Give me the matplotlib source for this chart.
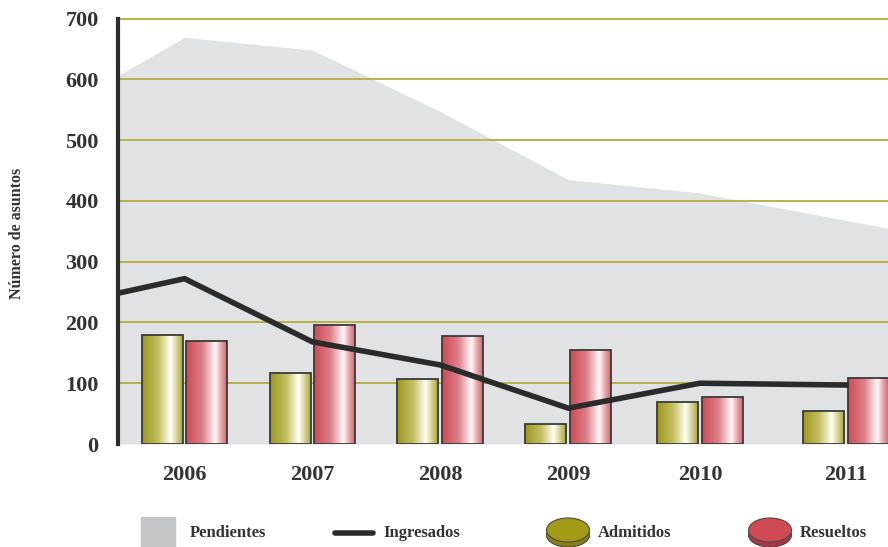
import numpy as np
import matplotlib
matplotlib.use("Agg")
import matplotlib.pyplot as plt
import matplotlib.patches as patches
from matplotlib.lines import Line2D
from matplotlib.colors import LinearSegmentedColormap

plt.rcParams['font.family'] = ['Liberation Serif', 'DejaVu Serif']
plt.rcParams['font.weight'] = 'bold'

# ---------- DATA ----------
years = ['2006', '2007', '2008', '2009', '2010', '2011']
admitidos = [179, 116, 107, 33, 69, 54]
resueltos = [170, 196, 178, 154, 78, 109]
ingresados = [272, 168, 130, 59, 100, 97]
pendientes = [669, 648, 547, 435, 413]
# values where the series meet the edges of the plot
ingresados_left = 248
pendientes_left = 606
pendientes_right = 355

# ---------- LAYOUT ----------
group_x = np.array([0, 1.0, 2.0, 3.0, 4.03, 5.17])
x_left, x_right = -0.52, 5.5
bar_w = 0.32
off = 0.175

DARK = '#2b2b2b'
GRID = '#b3ad3c'
AREA = '#e1e2e3'

fig = plt.figure(figsize=(8.88, 5.47), dpi=100)
ax = fig.add_axes([118 / 888, 103 / 547, 1 - 118 / 888, (444 - 18.5) / 547])

# PENDIENTES (area)
area_x = np.concatenate([[x_left], group_x[:5], [x_right]])
area_y = np.concatenate([[pendientes_left], pendientes, [pendientes_right]])
ax.fill_between(area_x, 0, area_y, color=AREA, lw=0, zorder=1)

# GRID
for v in range(100, 701, 100):
    ax.axhline(v, color=GRID, lw=1.3, zorder=2, clip_on=False)

# BARS with gradient
cm_olive = LinearSegmentedColormap.from_list('olive', [
    (0.0, '#9d9720'), (0.4, '#c5c062'), (0.7, '#fffff4'),
    (0.85, '#d6d399'), (1.0, '#a9a42e')])
cm_red = LinearSegmentedColormap.from_list('red', [
    (0.0, '#cd4a56'), (0.4, '#dd8088'), (0.72, '#fff8f8'),
    (0.87, '#e5a2a6'), (1.0, '#d2606b')])
grad = np.linspace(0, 1, 256).reshape(1, -1)

def gradient_bars(xs, vals, cmap):
    bars = ax.bar(xs, vals, width=bar_w, facecolor='none',
                  edgecolor='#3a3a3a', lw=1.3, zorder=4)
    for b in bars:
        x0, w, h = b.get_x(), b.get_width(), b.get_height()
        im = ax.imshow(grad, cmap=cmap, extent=[x0, x0 + w, 0, h],
                       aspect='auto', zorder=3, interpolation='bilinear')
        im.set_clip_path(b)

gradient_bars(group_x - off, admitidos, cm_olive)
gradient_bars(group_x + off, resueltos, cm_red)

# INGRESADOS (line)
line_x = np.concatenate([[x_left], group_x])
line_y = np.concatenate([[ingresados_left], ingresados])
ax.plot(line_x, line_y, color=DARK, lw=4, zorder=5, solid_joinstyle='miter')

# ---------- AXES ----------
ax.set_xlim(x_left, x_right)
ax.set_ylim(0, 700)
ax.set_aspect('auto')
for s in ['top', 'right', 'bottom']:
    ax.spines[s].set_visible(False)
ax.spines['left'].set_color(DARK)
ax.spines['left'].set_linewidth(3)
ax.spines['left'].set_zorder(6)

ax.set_yticks(range(0, 701, 100))
ax.tick_params(axis='y', length=0, pad=14, labelsize=16, labelcolor='#333333')
ax.set_xticks(group_x)
ax.set_xticklabels(years)
ax.tick_params(axis='x', length=0, pad=15, labelsize=16, labelcolor='#333333')

fig.text(17 / 888, 1 - 233 / 547, 'Número de asuntos', rotation=90,
         ha='center', va='center', fontsize=11.5, color='#333333')

# ---------- LEGEND ----------
def fx(px):
    return px / 888

def fy(py):
    return 1 - py / 547

fig.patches.append(patches.Rectangle((fx(141), 0), fx(175) - fx(141), fy(517),
                                     transform=fig.transFigure, color='#c4c5c7'))
fig.text(fx(190), fy(533), 'Pendientes', va='center', fontsize=12, color='#333333')

fig.lines.append(Line2D([fx(335), fx(373)], [fy(533), fy(533)],
                        transform=fig.transFigure, color=DARK, lw=4,
                        solid_capstyle='round'))
fig.text(fx(383), fy(533), 'Ingresados', va='center', fontsize=12, color='#333333')

def coin(cx, face, rim):
    w, h = fx(43), 24 / 547
    fig.patches.append(patches.Ellipse((fx(cx), fy(535)), w, h,
                                       transform=fig.transFigure,
                                       facecolor=rim, edgecolor='#4a4a4a', lw=0.8))
    fig.patches.append(patches.Ellipse((fx(cx), fy(530)), w, h,
                                       transform=fig.transFigure,
                                       facecolor=face, edgecolor='#4a4a4a', lw=0.8))

coin(568, '#a39b16', '#857f12')
fig.text(fx(598), fy(533), 'Admitidos', va='center', fontsize=12, color='#333333')
coin(770, '#d04a55', '#a83843')
fig.text(fx(800), fy(533), 'Resueltos', va='center', fontsize=12, color='#333333')

fig.savefig('out.png', dpi=100)
